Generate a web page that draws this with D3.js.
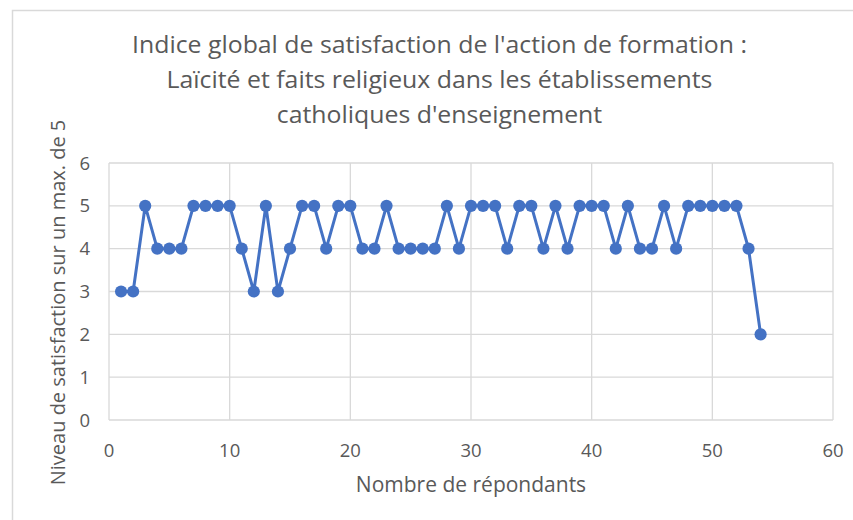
<!DOCTYPE html>
<html><head><meta charset="utf-8">
<script src="https://cdn.jsdelivr.net/npm/d3@7"></script>
<style>body{margin:0;background:#fff}svg{display:block}</style>
</head><body>
<svg id="c" width="853" height="520"></svg>
<script>
const titleLines = ["Indice global de satisfaction de l'action de formation :",
  "Laïcité et faits religieux dans les établissements",
  "catholiques d'enseignement"];
const xLabel = "Nombre de répondants";
const yLabel = "Niveau de satisfaction sur un max. de 5";
const respondents = d3.range(1, 55);
const scores = [3,3,5,4,4,4,5,5,5,5,4,3,5,3,4,5,5,4,5,5,
  4,4,5,4,4,4,4,5,4,5,5,5,4,5,5,4,5,4,5,5,
  5,4,5,4,4,5,4,5,5,5,5,5,4,2];
const xTicks = [0,10,20,30,40,50,60];
const yTicks = [0,1,2,3,4,5,6];

const svg = d3.select("#c");
const font = "'Open Sans', sans-serif";
const txt = "#595959", grid = "#d9d9d9", blue = "#4472C4";

// container border
svg.append("path").attr("d","M12.5,520 V10.5 H853").attr("fill","none").attr("stroke","#d9d9d9").attr("stroke-width",1.5);

const x = d3.scaleLinear().domain([0,60]).range([109,833]);
const y = d3.scaleLinear().domain([0,6]).range([420,163]);

const g = svg.append("g");
g.selectAll(".hg").data(yTicks).join("line")
  .attr("x1",x(0)).attr("x2",x(60)).attr("y1",d=>y(d)).attr("y2",d=>y(d))
  .attr("stroke",grid).attr("stroke-width",1.3);
g.selectAll(".vg").data(xTicks).join("line")
  .attr("x1",d=>x(d)).attr("x2",d=>x(d)).attr("y1",y(0)).attr("y2",y(6))
  .attr("stroke",grid).attr("stroke-width",1.3);

// tick labels
svg.selectAll(".yt").data(yTicks).join("text")
  .attr("x",x(0)-19).attr("y",d=>y(d)).attr("dy","0.36em")
  .attr("text-anchor","end").attr("font-family",font).attr("font-size",18.5).attr("fill",txt)
  .text(d=>d);
svg.selectAll(".xt").data(xTicks).join("text")
  .attr("x",d=>x(d)).attr("y",457)
  .attr("text-anchor","middle").attr("font-family",font).attr("font-size",18.5).attr("fill",txt)
  .text(d=>d);

// line
const pts = respondents.map((r,i)=>[r,scores[i]]);
svg.append("path").datum(pts)
  .attr("d", d3.line().x(d=>x(d[0])).y(d=>y(d[1])))
  .attr("fill","none").attr("stroke",blue).attr("stroke-width",3).attr("stroke-linejoin","round");
svg.selectAll(".pt").data(pts).join("circle")
  .attr("cx",d=>x(d[0])).attr("cy",d=>y(d[1])).attr("r",6.1).attr("fill",blue);

// titles
const tg = svg.append("g").attr("transform","translate(439.5,0) scale(1.08,1)");
tg.selectAll(".tl").data(titleLines).join("text")
  .attr("x",0).attr("y",(d,i)=>53.5+i*35)
  .attr("text-anchor","middle").attr("font-family",font).attr("font-size",23).attr("fill",txt)
  .text(d=>d);
svg.append("text").attr("x",471).attr("y",492).attr("text-anchor","middle")
  .attr("font-family",font).attr("font-size",21).attr("fill",txt).text(xLabel);
svg.append("text").attr("transform","translate(65,302.5) rotate(-90)").attr("text-anchor","middle")
  .attr("font-family",font).attr("font-size",20).attr("fill",txt).text(yLabel);
</script>
</body></html>
